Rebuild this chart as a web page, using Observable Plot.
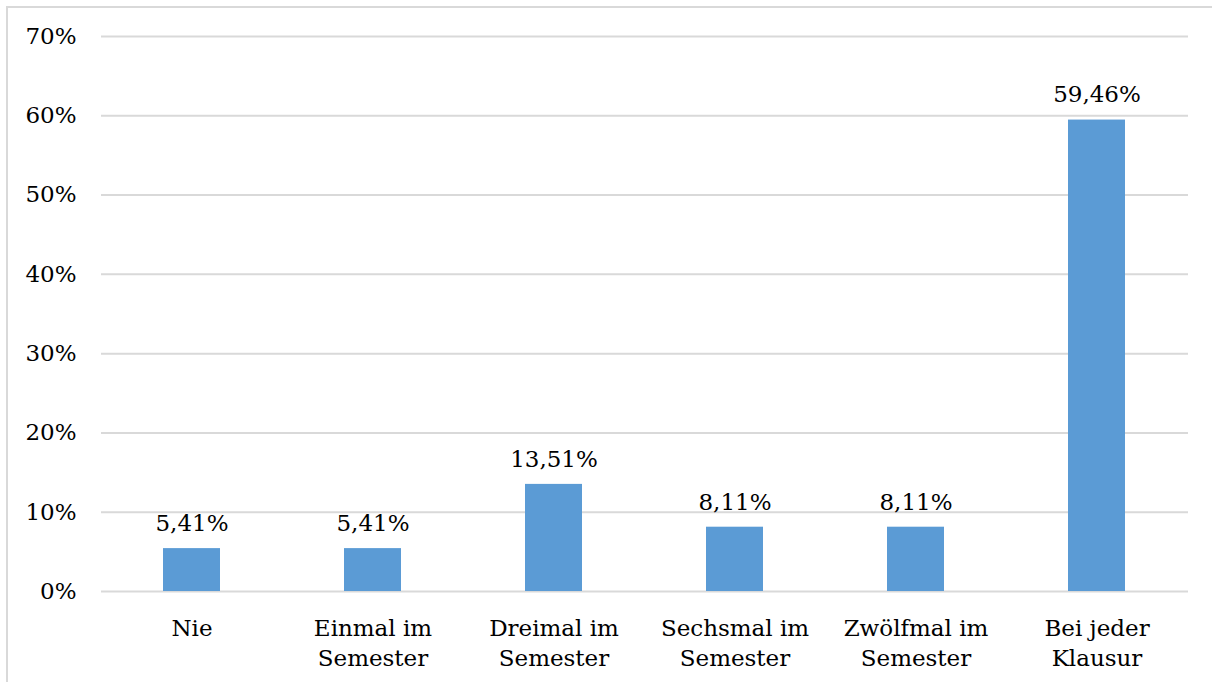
<!DOCTYPE html>
<html>
<head>
<meta charset="utf-8">
<script src="https://cdn.jsdelivr.net/npm/d3@7"></script>
<script src="https://cdn.jsdelivr.net/npm/@observablehq/plot@0.6"></script>
<style>
  html, body { margin: 0; padding: 0; background: #fff; }
  #wrap { position: relative; width: 1212px; height: 682px; overflow: hidden; }
  #frame { position: absolute; left: 6px; top: 6px; width: 1300px; height: 800px; border-left: 2px solid #d9d9d9; border-top: 2px solid #d9d9d9; box-sizing: border-box; }
  #chart { position: absolute; left: 0; top: 0; }
</style>
</head>
<body>
<div id="wrap"><div id="frame"></div><div id="chart"></div></div>
<script>
const categories = ["Nie", "Einmal im\nSemester", "Dreimal im\nSemester", "Sechsmal im\nSemester", "Zwölfmal im\nSemester", "Bei jeder\nKlausur"];
const values = [5.41, 5.41, 13.51, 8.11, 8.11, 59.46];
const yTicks = [0, 10, 20, 30, 40, 50, 60, 70];

const data = categories.map((c, i) => ({category: c, value: values[i]}));
const fmt = v => v.toFixed(2).replace(".", ",") + "%";

const chart = Plot.plot({
  width: 1212,
  height: 682,
  marginLeft: 101,
  marginRight: 24,
  marginTop: 36,
  marginBottom: 91,
  style: {fontFamily: "'DejaVu Serif', serif", fontSize: "23px", color: "#000", background: "transparent"},
  x: {domain: categories, paddingInner: 0.685, paddingOuter: 0.3425, label: null},
  y: {domain: [0, 70], ticks: yTicks, label: null},
  marks: [
    Plot.gridY(yTicks, {stroke: "#d9d9d9", strokeOpacity: 1, strokeWidth: 2}),
    Plot.axisY(yTicks, {tickSize: 0, tickPadding: 25, tickFormat: d => d + "%", fontSize: 23, fill: "#000", label: null}),
    Plot.axisX({tickSize: 0, tickPadding: 23, lineAnchor: "top", lineHeight: 1.3, fontSize: 23, fill: "#000", label: null}),
    Plot.barY(data, {x: "category", y: "value", fill: "#5b9bd5"}),
    Plot.text(data, {x: "category", y: "value", text: d => fmt(d.value), dy: -25, fontSize: 23, fill: "#000", lineAnchor: "middle"})
  ]
});
document.getElementById("chart").appendChild(chart);
</script>
</body>
</html>
